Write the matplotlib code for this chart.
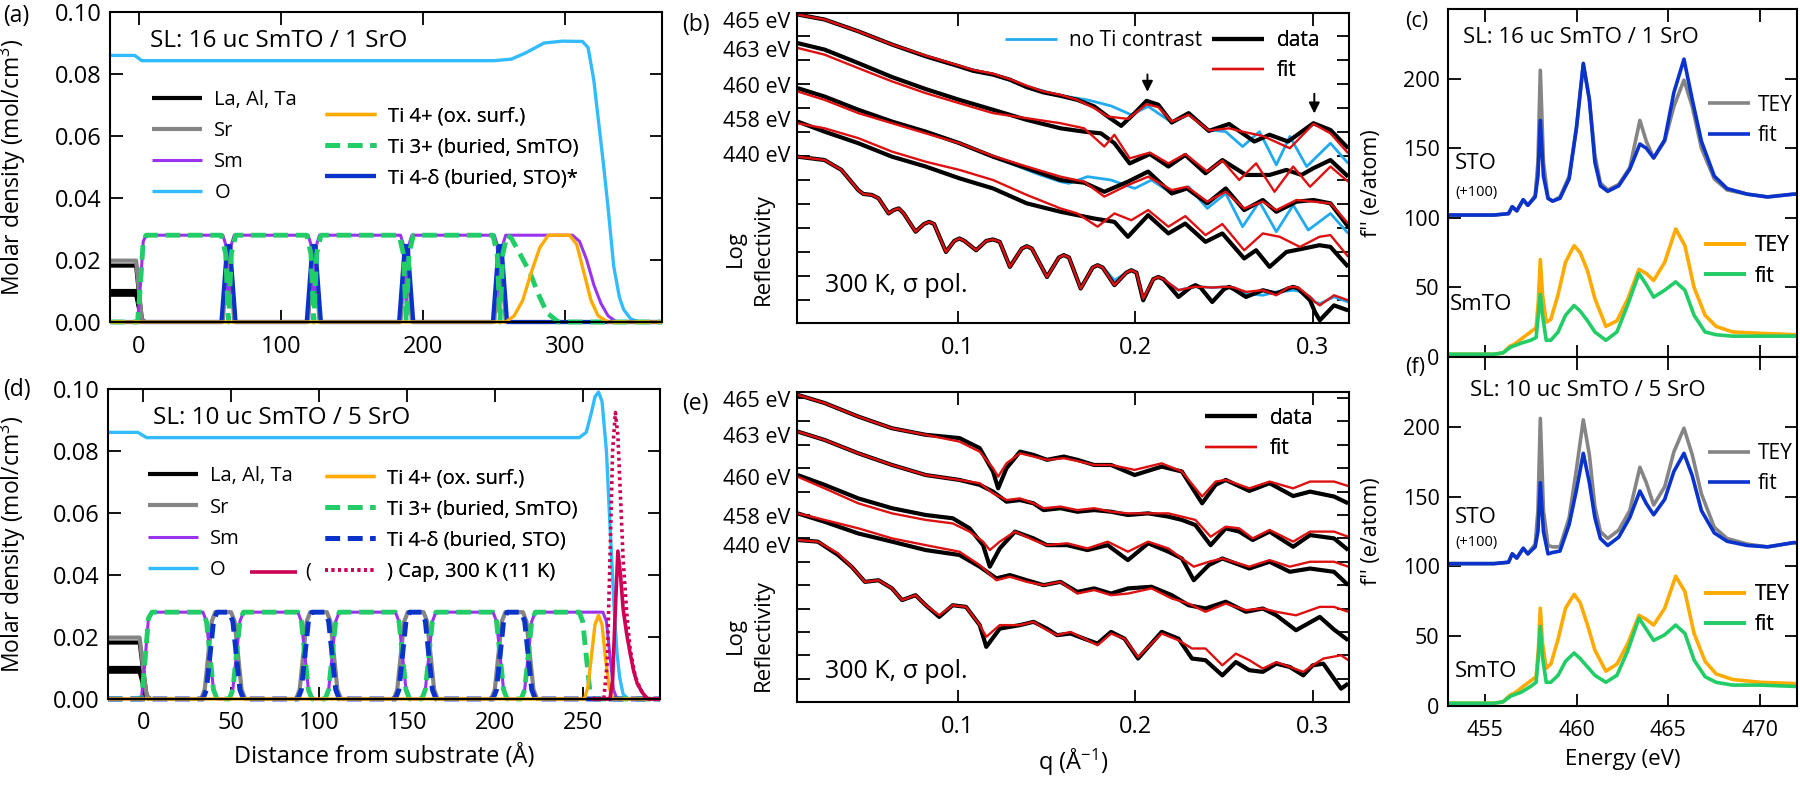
import matplotlib.pyplot as plt
import matplotlib.transforms as mtransforms
from matplotlib.lines import Line2D
from matplotlib.ticker import MultipleLocator

plt.rcParams['font.family'] = ['Open Sans', 'DejaVu Sans']
plt.rcParams['mathtext.fontset'] = 'custom'
plt.rcParams['mathtext.rm'] = 'Open Sans'
plt.rcParams['mathtext.it'] = 'Open Sans:italic'
plt.rcParams['axes.linewidth'] = 1.5
plt.rcParams['lines.solid_joinstyle'] = 'round'
plt.rcParams['lines.solid_capstyle'] = 'butt'

# colours
c_sub = 'black'
c_sr = '#858585'
c_sm = '#9933ee'
c_o = '#33bbff'
c_ti4 = '#ffaa00'
c_ti3 = '#22cc66'
c_tid = '#0a33cc'
c_cap = '#cc0055'
c_fit = '#dd1111'
c_noti = '#22aaee'

# ---------------- (a) depth profile, 16 uc SmTO / 1 SrO ----------------
sub_x = [-20, -2, 0, 2, 4]
la_y = [0.0088, 0.0088, 0.0044, 0.0004, 0.0]
ta_y = [0.0100, 0.0100, 0.0050, 0.0005, 0.0]
al_y = [0.0182, 0.0182, 0.0091, 0.0009, 0.0]

a_o_x = [-20, -3, 2, 250, 262, 272, 285, 298, 312, 316, 320, 324, 327, 330, 334, 338, 341, 346, 352, 368]
a_o_y = [0.086, 0.086, 0.0843, 0.0843, 0.0848, 0.0868, 0.0900, 0.0906, 0.0905, 0.0885, 0.078, 0.062,
         0.050, 0.037, 0.018, 0.008, 0.004, 0.001, 0.0, 0.0]
a_sr_x = [-20, -2, 0, 2, 4, 59, 62, 64, 67, 119, 122, 124, 127, 184, 187, 189, 192, 250, 253, 255, 258, 368]
a_sr_y = [0.0198, 0.0198, 0.0099, 0.001, 0, 0, 0.022, 0.022, 0, 0, 0.022, 0.022, 0, 0, 0.022, 0.022, 0,
          0, 0.022, 0.022, 0, 0]
a_sm_x = [-20, -1, 1, 3, 5, 59, 61, 63, 65, 67, 119, 121, 123, 125, 127, 184, 186, 188, 190, 192,
          250, 252, 254, 256, 258, 305, 310, 315, 320, 325, 330, 336, 368]
a_sm_y = [0, 0, 0.012, 0.026, 0.028, 0.028, 0.025, 0.006, 0.025, 0.028, 0.028, 0.025, 0.006, 0.025, 0.028,
          0.028, 0.025, 0.006, 0.025, 0.028, 0.028, 0.025, 0.006, 0.025, 0.028, 0.028, 0.026, 0.020,
          0.012, 0.006, 0.002, 0, 0]
a_ti3_x = [-20, -1, 1, 3, 5, 58, 61, 63, 65, 68, 118, 121, 123, 125, 128, 183, 186, 188, 190, 193,
           249, 252, 254, 256, 259, 262, 268, 275, 281, 287, 295, 368]
a_ti3_y = [0, 0, 0.012, 0.026, 0.028, 0.028, 0.022, 0.0, 0.022, 0.028, 0.028, 0.022, 0.0, 0.022, 0.028,
           0.028, 0.022, 0.0, 0.022, 0.028, 0.028, 0.022, 0.0, 0.022, 0.028, 0.027, 0.022, 0.016,
           0.009, 0.003, 0.0, 0.0]
a_tid_x = [-20, 58, 62, 64, 68, 118, 122, 124, 128, 183, 187, 189, 193, 249, 253, 255, 259, 368]
a_tid_y = [0, 0, 0.0245, 0.0245, 0, 0, 0.0245, 0.0245, 0, 0, 0.0245, 0.0245, 0, 0, 0.0245, 0.0245, 0, 0]
a_ti4_x = [-20, 258, 264, 270, 276, 282, 288, 303, 308, 313, 318, 323, 330, 368]
a_ti4_y = [0, 0, 0.002, 0.007, 0.016, 0.024, 0.028, 0.028, 0.025, 0.016, 0.007, 0.002, 0, 0]

# ---------------- (d) depth profile, 10 uc SmTO / 5 SrO ----------------
d_o_x = [-20, -3, 2, 248, 252, 255, 257, 259, 261, 263.5, 265, 266.5, 268, 269.5, 271, 273, 276, 294]
d_o_y = [0.086, 0.086, 0.0843, 0.0843, 0.0860, 0.0925, 0.0975, 0.0990, 0.0960, 0.0800, 0.0620,
         0.0450, 0.0280, 0.0150, 0.0070, 0.0015, 0, 0]
d_sr_x = [-20, -2, 0, 2, 4, 33, 35, 37, 39, 41, 50, 52, 54, 56, 58, 87, 89, 91, 93, 95,
          104.5, 106.5, 108.5, 110.5, 112.5, 142.5, 144.5, 146.5, 148.5, 150.5,
          159.5, 161.5, 163.5, 165.5, 167.5, 198, 200, 202, 204, 206, 216, 218, 220, 222, 224, 294]
d_sr_y = [0.0198, 0.0198, 0.0099, 0.001, 0,
          0, 0.003, 0.014, 0.025, 0.028, 0.028, 0.025, 0.014, 0.003, 0,
          0, 0.003, 0.014, 0.025, 0.028, 0.028, 0.025, 0.014, 0.003, 0,
          0, 0.003, 0.014, 0.025, 0.028, 0.028, 0.025, 0.014, 0.003, 0,
          0, 0.003, 0.014, 0.025, 0.028, 0.028, 0.025, 0.014, 0.003, 0, 0]
d_ti3_x = [-20, -1, 1, 3, 5, 34, 36, 38, 40, 42, 49, 51, 53, 55, 57, 88, 90, 92, 94, 96,
           103.5, 105.5, 107.5, 109.5, 111.5, 143.5, 145.5, 147.5, 149.5, 151.5,
           158.5, 160.5, 162.5, 164.5, 166.5, 199, 201, 203, 205, 207, 215, 217, 219, 221, 223,
           248, 250, 252, 254, 256, 294]
d_ti3_y = [0, 0, 0.012, 0.026, 0.028,
           0.028, 0.025, 0.014, 0.003, 0, 0, 0.003, 0.014, 0.025, 0.028,
           0.028, 0.025, 0.014, 0.003, 0, 0, 0.003, 0.014, 0.025, 0.028,
           0.028, 0.025, 0.014, 0.003, 0, 0, 0.003, 0.014, 0.025, 0.028,
           0.028, 0.025, 0.014, 0.003, 0, 0, 0.003, 0.014, 0.025, 0.028,
           0.028, 0.025, 0.014, 0.003, 0, 0]
d_sm_x = [-20, -1, 1, 3, 5, 34, 36, 38, 40, 42, 49, 51, 53, 55, 57, 88, 90, 92, 94, 96,
          103.5, 105.5, 107.5, 109.5, 111.5, 143.5, 145.5, 147.5, 149.5, 151.5,
          158.5, 160.5, 162.5, 164.5, 166.5, 199, 201, 203, 205, 207, 215, 217, 219, 221, 223,
          261.5, 263.5, 265.5, 267.5, 269.5, 294]
d_sm_y = d_ti3_y
d_tid_x = [-20, 34, 36, 38, 40, 42, 49, 51, 53, 55, 57, 88, 90, 92, 94, 96,
           103.5, 105.5, 107.5, 109.5, 111.5, 143.5, 145.5, 147.5, 149.5, 151.5,
           158.5, 160.5, 162.5, 164.5, 166.5, 199, 201, 203, 205, 207, 215, 217, 219, 221, 223, 294]
d_tid_y = [0,
           0, 0.003, 0.014, 0.025, 0.028, 0.028, 0.025, 0.014, 0.003, 0,
           0, 0.003, 0.014, 0.025, 0.028, 0.028, 0.025, 0.014, 0.003, 0,
           0, 0.003, 0.014, 0.025, 0.028, 0.028, 0.025, 0.014, 0.003, 0,
           0, 0.003, 0.014, 0.025, 0.028, 0.028, 0.025, 0.014, 0.003, 0, 0]
d_ti4_x = [-20, 251, 253, 255, 257, 259, 261, 263, 265, 267, 294]
d_ti4_y = [0, 0, 0.004, 0.014, 0.024, 0.027, 0.024, 0.013, 0.004, 0, 0]
cap300_x = [255, 265.5, 267, 268.5, 270, 271.5, 273, 275, 277, 279, 281, 284, 287, 294]
cap300_y = [0, 0, 0.006, 0.028, 0.0477, 0.040, 0.029, 0.021, 0.0147, 0.009, 0.005, 0.002, 0, 0]
cap11_x = [255, 262, 264, 265.5, 267, 268.6, 270, 271.5, 273, 275, 277, 280, 283, 286, 294]
cap11_y = [0, 0, 0.012, 0.045, 0.080, 0.0924, 0.085, 0.065, 0.045, 0.028, 0.016, 0.007, 0.003, 0, 0]

# ---------------- (b) reflectivity, log10 R with offsets ----------------
b_q465 = [0.0098, 0.0250, 0.0440, 0.0630, 0.0820, 0.1010, 0.1086, 0.1199, 0.1294, 0.1389, 0.1484, 0.1579,
          0.1674, 0.1769, 0.1845, 0.1921, 0.1997, 0.2064, 0.2130, 0.2206, 0.2301, 0.2415, 0.2529, 0.2671,
          0.2757, 0.2861, 0.3004, 0.310, 0.320]
b_465_data = [11.88, 11.67, 11.18, 10.63, 10.14, 9.72, 9.54, 9.38, 9.17, 8.86, 8.64, 8.50, 8.33, 8.06, 7.64,
              7.25, 7.78, 8.29, 8.13, 7.39, 7.78, 7.04, 7.33, 6.60, 6.88, 6.60, 7.36, 7.08, 6.32]
b_q465_fit = [0.0098, 0.0250, 0.0440, 0.0630, 0.0820, 0.1010, 0.1086, 0.1199, 0.1294, 0.1389, 0.1484,
              0.1579, 0.1674, 0.1769, 0.1845, 0.1959, 0.2064, 0.2130, 0.2206, 0.2301, 0.2415, 0.2529,
              0.2605, 0.2719, 0.2871, 0.3004, 0.310, 0.320]
b_465_fit = [11.88, 11.67, 11.18, 10.63, 10.17, 9.75, 9.58, 9.42, 9.19, 8.92, 8.68, 8.54, 8.33, 7.99, 7.64,
             7.54, 8.15, 8.03, 7.43, 7.71, 7.06, 7.15, 7.01, 6.83, 6.32, 7.33, 6.94, 6.11]
b_q465_noti = [0.0098, 0.0250, 0.0440, 0.0630, 0.0820, 0.1010, 0.1199, 0.1389, 0.1579, 0.1731, 0.1864,
               0.1978, 0.2073, 0.2206, 0.2301, 0.2415, 0.2510, 0.2605, 0.2700, 0.2795, 0.2871, 0.2966,
               0.310, 0.320]
b_465_noti = [11.88, 11.67, 11.18, 10.63, 10.14, 9.72, 9.38, 8.89, 8.51, 8.33, 8.08, 7.71, 8.06, 7.39,
              7.71, 7.08, 7.01, 6.39, 7.01, 5.63, 6.81, 5.56, 6.53, 5.69]

b_q463 = [0.0098, 0.0250, 0.0440, 0.0630, 0.0820, 0.1010, 0.1199, 0.1294, 0.1389, 0.1579, 0.1712, 0.1807,
          0.1883, 0.1969, 0.2083, 0.2187, 0.2282, 0.2396, 0.2491, 0.2624, 0.2757, 0.2852, 0.2937, 0.3004,
          0.310, 0.320]
b_463_data = [10.69, 10.42, 9.86, 9.28, 8.78, 8.33, 7.92, 7.71, 7.50, 7.15, 7.01, 6.94, 6.53, 5.69, 6.08,
              5.56, 6.04, 5.28, 5.83, 5.21, 5.21, 5.42, 5.21, 5.49, 5.83, 5.14]
b_q463_fit = [0.0098, 0.0250, 0.0440, 0.0630, 0.0820, 0.1010, 0.1199, 0.1389, 0.1579, 0.1712, 0.1826,
              0.1883, 0.1969, 0.2083, 0.2187, 0.2282, 0.2406, 0.2491, 0.2586, 0.2681, 0.2785, 0.2890,
              0.2985, 0.310, 0.320]
b_463_fit = [10.49, 10.21, 9.65, 9.10, 8.61, 8.19, 7.78, 7.57, 7.36, 7.15, 6.39, 6.88, 5.90, 6.14, 5.69,
             6.08, 5.35, 5.81, 5.00, 5.69, 4.51, 5.56, 4.72, 5.56, 4.93]

b_q460 = [0.0098, 0.0250, 0.0440, 0.0630, 0.0820, 0.1010, 0.1199, 0.1389, 0.1579, 0.1712, 0.1826, 0.1959,
          0.2073, 0.2206, 0.2292, 0.2406, 0.2510, 0.2614, 0.2719, 0.2795, 0.2909, 0.3004, 0.310, 0.320]
b_460_data = [8.82, 8.47, 7.92, 7.43, 7.01, 6.53, 5.97, 5.49, 5.00, 4.89, 4.51, 4.93, 5.35, 4.44, 4.65,
              4.03, 4.65, 3.75, 4.17, 3.68, 4.10, 4.17, 4.03, 3.06]
b_460_fit = [8.68, 8.33, 7.78, 7.36, 6.94, 6.53, 6.00, 5.56, 5.14, 4.93, 4.31, 4.79, 5.14, 4.58, 4.72,
             4.10, 4.51, 3.82, 4.10, 3.75, 4.17, 4.10, 4.03, 3.19]
b_q460_noti = [0.0098, 0.0250, 0.0440, 0.0630, 0.0820, 0.1010, 0.1199, 0.1465, 0.1579, 0.1627, 0.1731,
               0.1864, 0.1997, 0.2092, 0.2206, 0.2301, 0.2406, 0.2510, 0.2605, 0.2700, 0.2795, 0.2890,
               0.2975, 0.310, 0.320]
b_460_noti = [8.82, 8.47, 7.92, 7.43, 7.01, 6.53, 5.97, 5.21, 4.93, 4.86, 5.14, 5.00, 4.65, 5.00, 4.44,
              4.72, 3.82, 4.44, 3.06, 4.10, 2.85, 3.96, 2.92, 3.61, 2.78]

b_q458 = [0.0098, 0.0250, 0.0440, 0.0630, 0.0820, 0.1010, 0.1199, 0.1389, 0.1579, 0.1769, 0.1883, 0.1959,
          0.2073, 0.2187, 0.2282, 0.2396, 0.2491, 0.2614, 0.2681, 0.2757, 0.2852, 0.2947, 0.3038, 0.310,
          0.320]
b_458_data = [7.43, 7.01, 6.53, 5.97, 5.56, 5.07, 4.65, 4.03, 3.68, 3.40, 3.26, 2.64, 3.54, 2.78, 3.19,
              2.43, 2.78, 1.74, 2.08, 1.39, 2.01, 2.15, 2.29, 2.22, 1.39]
b_q458_fit = [0.0098, 0.0250, 0.0440, 0.0630, 0.0820, 0.1010, 0.1199, 0.1389, 0.1579, 0.1674, 0.1788,
              0.1883, 0.1978, 0.2073, 0.2187, 0.2282, 0.2396, 0.2491, 0.2614, 0.2719, 0.2814, 0.2928,
              0.3038, 0.310, 0.320]
b_458_fit = [7.36, 7.15, 6.74, 6.18, 5.76, 5.42, 5.00, 4.38, 3.82, 3.61, 3.06, 3.61, 3.33, 3.75, 3.06,
             3.50, 2.71, 3.17, 2.08, 2.78, 2.64, 2.22, 2.64, 2.71, 1.81]

b_q440 = [0.0098, 0.0250, 0.0345, 0.0440, 0.0468, 0.0516, 0.0554, 0.0611, 0.0639, 0.0668,
          0.0696, 0.0763, 0.0810, 0.0839, 0.0867, 0.0934, 0.0981, 0.1010, 0.1038, 0.1104,
          0.1161, 0.1199, 0.1237, 0.1294, 0.1361, 0.1389, 0.1418, 0.1503, 0.1570, 0.1598,
          0.1627, 0.1693, 0.1760, 0.1788, 0.1817, 0.1883, 0.1950, 0.1978, 0.2007, 0.2045,
          0.2102, 0.2130, 0.2159, 0.2244, 0.2310, 0.2339, 0.2368, 0.2434, 0.2500, 0.2529,
          0.2557, 0.2624, 0.2719, 0.2795, 0.2861, 0.2890, 0.2918, 0.2985, 0.3013, 0.3040,
          0.3120, 0.3200]
b_440_data = [5.97, 5.83, 5.42, 4.58, 4.42, 4.38, 4.24, 3.61, 3.75, 3.82,
              3.61, 2.85, 3.17, 3.26, 3.17, 2.01, 2.47, 2.57, 2.47, 2.08,
              2.47, 2.53, 2.43, 1.39, 2.15, 2.25, 2.15, 0.97, 1.78, 1.88,
              1.78, 0.49, 1.36, 1.46, 1.36, 0.63, 1.15, 1.25, 1.15, 0.00,
              0.88, 0.97, 0.88, 0.14, 0.53, 0.63, 0.53, -0.07, 0.46, 0.56,
              0.46, 0.14, 0.42, 0.28, 0.49, 0.56, 0.49, 0.00, -0.49, -0.83,
              -0.21, -0.42]
b_440_fit = [5.97, 5.83, 5.42, 4.58, 4.42, 4.38, 4.24, 3.61, 3.75, 3.82,
             3.61, 2.85, 3.17, 3.26, 3.17, 2.01, 2.47, 2.57, 2.47, 2.08,
             2.47, 2.53, 2.43, 1.39, 2.15, 2.25, 2.15, 0.97, 1.78, 1.88,
             1.78, 0.49, 1.36, 1.46, 1.36, 0.63, 1.15, 1.25, 1.15, 0.07,
             0.88, 0.97, 0.88, 0.42, 0.53, 0.56, 0.56, 0.53, 0.56, 0.56,
             0.53, 0.35, 0.42, 0.21, 0.53, 0.56, 0.53, 0.14, -0.07, -0.21,
             0.21, 0.00]
b_440_noti = [5.97, 5.83, 5.42, 4.58, 4.42, 4.38, 4.24, 3.61, 3.75, 3.82,
              3.61, 2.85, 3.17, 3.26, 3.17, 2.01, 2.47, 2.57, 2.47, 2.08,
              2.47, 2.53, 2.43, 1.39, 2.15, 2.25, 2.15, 0.97, 1.78, 1.88,
              1.78, 0.49, 1.36, 1.46, 1.39, 0.83, 1.15, 1.25, 1.15, 0.07,
              0.88, 0.97, 0.88, 0.42, 0.53, 0.56, 0.56, 0.53, 0.56, 0.56,
              0.53, 0.28, 0.21, 0.35, 0.39, 0.42, 0.39, 0.14, -0.07, -0.14,
              0.14, -0.07]

# ---------------- (e) reflectivity, log10 R with offsets ----------------
e_q465 = [0.0098, 0.0250, 0.0440, 0.0630, 0.0820, 0.1010, 0.1124, 0.1199, 0.1228, 0.1275, 0.1351, 0.1427,
          0.1503, 0.1598, 0.1674, 0.1769, 0.1864, 0.1997, 0.2149, 0.2263, 0.2377, 0.2453, 0.2510, 0.2643,
          0.2757, 0.2890, 0.2985, 0.3120, 0.3200]
e_465_data = [12.14, 11.79, 11.21, 10.71, 10.43, 10.29, 9.86, 8.86, 8.14, 9.00, 9.71, 9.57, 9.36, 9.50,
              9.36, 9.14, 9.14, 8.71, 9.07, 8.86, 7.50, 8.29, 8.50, 8.03, 8.36, 7.81, 8.00, 7.79, 7.50]
e_465_fit = [12.14, 11.79, 11.21, 10.71, 10.43, 10.14, 9.71, 9.00, 8.64, 9.21, 9.64, 9.50, 9.36, 9.43,
             9.31, 9.14, 9.14, 8.93, 9.21, 8.86, 7.79, 8.43, 8.50, 8.14, 8.43, 8.14, 8.43, 8.43, 8.24]
e_q463 = [0.0098, 0.0250, 0.0440, 0.0630, 0.0820, 0.1010, 0.1124, 0.1199, 0.1275, 0.1351, 0.1427, 0.1484,
          0.1579, 0.1674, 0.1769, 0.1864, 0.1959, 0.2073, 0.2187, 0.2263, 0.2339, 0.2425, 0.2510, 0.2586,
          0.2662, 0.2757, 0.2890, 0.2985, 0.3120, 0.3200]
e_463_data = [10.57, 10.21, 9.64, 9.14, 8.71, 8.50, 8.29, 8.00, 7.57, 7.64, 7.50, 7.21, 7.29, 7.14, 7.21,
              7.14, 7.00, 7.07, 6.93, 6.79, 6.57, 5.71, 6.43, 6.29, 5.93, 6.29, 5.64, 6.14, 6.00, 5.50]
e_463_fit = [10.57, 10.21, 9.64, 9.14, 8.71, 8.50, 8.36, 7.93, 7.64, 7.71, 7.50, 7.29, 7.36, 7.21, 7.29,
             7.14, 7.07, 7.07, 7.07, 6.93, 6.79, 6.07, 6.50, 6.43, 6.00, 6.36, 5.86, 6.29, 6.29, 6.07]
e_q460 = [0.0098, 0.0250, 0.0440, 0.0630, 0.0820, 0.0972, 0.1067, 0.1143, 0.1181, 0.1237, 0.1323, 0.1427,
          0.1503, 0.1617, 0.1731, 0.1845, 0.1959, 0.2073, 0.2187, 0.2263, 0.2330, 0.2415, 0.2491, 0.2643,
          0.2757, 0.2871, 0.2985, 0.3120, 0.3200]
e_460_data = [8.71, 8.29, 7.71, 7.29, 7.00, 6.86, 6.43, 5.71, 4.79, 5.57, 6.29, 6.00, 5.71, 5.71, 5.50,
              5.71, 5.07, 5.79, 5.43, 5.14, 4.21, 4.86, 5.14, 4.71, 5.00, 4.57, 4.71, 4.57, 4.00]
e_460_fit = [8.64, 8.14, 7.50, 7.07, 6.79, 6.64, 6.29, 5.86, 5.50, 5.86, 6.29, 5.93, 5.71, 5.79, 5.57,
             5.86, 5.43, 5.86, 5.57, 5.14, 4.79, 5.00, 5.14, 4.79, 5.07, 4.79, 5.00, 5.00, 4.79]
e_q458 = [0.0098, 0.0250, 0.0440, 0.0630, 0.0820, 0.1010, 0.1124, 0.1218, 0.1294, 0.1389, 0.1484, 0.1579,
          0.1674, 0.1769, 0.1864, 0.1959, 0.2092, 0.2206, 0.2301, 0.2396, 0.2510, 0.2624, 0.2719, 0.2795,
          0.2906, 0.3040, 0.3120, 0.3200]
e_458_data = [7.07, 6.71, 6.21, 5.86, 5.50, 5.29, 4.79, 4.29, 4.43, 4.21, 4.00, 4.14, 3.71, 3.86, 3.64,
              3.86, 3.93, 3.57, 3.14, 3.00, 3.29, 2.86, 3.00, 2.71, 2.07, 2.64, 2.10, 1.64]
e_458_fit = [7.07, 6.79, 6.43, 6.00, 5.71, 5.43, 4.86, 4.21, 4.36, 4.14, 4.00, 4.14, 3.64, 3.79, 3.57,
             3.64, 3.86, 3.43, 3.21, 2.86, 3.21, 2.93, 3.00, 2.86, 2.71, 3.07, 3.07, 2.86]
e_q440 = [0.0098, 0.0212, 0.0326, 0.0402, 0.0478, 0.0554, 0.0630, 0.0687, 0.0763, 0.0820, 0.0896, 0.0972,
          0.1047, 0.1124, 0.1161, 0.1237, 0.1351, 0.1427, 0.1503, 0.1560, 0.1636, 0.1712, 0.1788, 0.1864,
          0.1940, 0.2016, 0.2149, 0.2244, 0.2320, 0.2396, 0.2491, 0.2567, 0.2643, 0.2719, 0.2795, 0.2871,
          0.2947, 0.3000, 0.3060, 0.3160, 0.3200]
e_440_data = [5.93, 5.86, 5.29, 4.79, 4.14, 4.21, 3.86, 3.36, 3.57, 3.14, 2.64, 3.14, 3.07, 2.29, 1.36,
              2.14, 2.29, 2.43, 2.14, 1.86, 1.93, 1.71, 1.50, 2.00, 1.71, 0.86, 2.00, 1.71, 0.86, 0.79,
              0.14, 0.71, 0.36, 0.29, 0.64, 0.50, 0.14, 0.57, 0.64, -0.43, -0.21]
e_440_fit = [5.93, 5.86, 5.36, 4.79, 4.14, 4.21, 3.86, 3.36, 3.57, 3.14, 2.71, 3.14, 3.07, 2.29, 1.79,
             2.29, 2.29, 2.43, 2.07, 1.86, 2.00, 1.71, 1.43, 1.93, 1.71, 0.93, 1.93, 1.64, 1.29, 1.29,
             0.57, 1.07, 0.79, 0.43, 0.71, 0.50, 0.29, 0.57, 0.86, 1.00, 0.79]

energy_labels = ['465 eV', '463 eV', '460 eV', '458 eV', '440 eV']
b_label_y = [11.54, 10.33, 8.83, 7.42, 5.96]
e_label_y = [11.84, 10.30, 8.50, 6.87, 5.63]

# ---------------- (c), (f) f'' spectra ----------------
E_sto = [453.0, 455.5, 456.3, 456.5, 456.75, 457.1, 457.35, 457.75, 457.9, 458.03, 458.2, 458.45, 458.7,
         459.1, 459.6, 460.0, 460.37, 460.7, 461.0, 461.3, 461.7, 462.3, 462.9, 463.45, 463.8, 464.2,
         464.8, 465.3, 465.85, 466.3, 466.8, 467.5, 468.2, 469.3, 470.4, 471.8, 472.0]
c_sto_tey = [102, 102, 103, 108, 105, 113, 109, 116, 140, 206, 140, 114, 112, 115, 130, 165, 210, 185, 145,
             125, 120, 124, 136, 170, 155, 143, 155, 180, 199, 180, 150, 128, 120, 117, 115, 117, 117]
c_sto_fit = [102, 102, 103, 108, 105, 113, 109, 115, 130, 170, 130, 114, 112, 114, 128, 165, 211, 185, 140,
             123, 119, 123, 135, 153, 150, 143, 156, 190, 214, 185, 155, 130, 121, 117, 115, 117, 117]
f_sto_tey = [102, 102, 103, 109, 106, 113, 109, 116, 140, 206, 140, 115, 114, 114, 135, 170, 205, 180, 143,
             125, 120, 126, 140, 171, 160, 144, 157, 182, 199, 180, 152, 128, 120, 116, 114, 117, 117]
f_sto_fit = [102, 102, 103, 109, 106, 113, 109, 114, 125, 160, 125, 109, 110, 111, 130, 155, 181, 160, 135,
             120, 115, 121, 135, 154, 145, 137, 148, 168, 181, 165, 140, 124, 118, 115, 114, 117, 117]
E_smto = [453.0, 455.5, 456.0, 456.4, 456.6, 457.0, 457.5, 457.8, 457.92, 458.03, 458.15, 458.35, 458.6,
          459.0, 459.4, 459.87, 460.2, 460.6, 461.0, 461.6, 462.2, 462.8, 463.4, 463.8, 464.2, 464.8,
          465.4, 465.9, 466.4, 467.0, 467.6, 468.5, 470.0, 472.0]
c_smto_tey = [2, 2, 3, 8, 9, 13, 18, 21, 40, 70, 45, 25, 27, 45, 68, 80, 75, 62, 42, 22, 26, 42, 63, 60,
              55, 68, 92, 80, 50, 30, 22, 18, 17, 16]
c_smto_fit = [2, 2, 3, 7, 8, 10, 12, 14, 30, 45, 30, 12, 12, 18, 30, 37, 33, 26, 18, 12, 18, 38, 60, 52,
              43, 48, 54, 48, 30, 18, 16, 15, 15, 15]
f_smto_tey = [2, 2, 3, 8, 9, 13, 18, 21, 40, 70, 45, 27, 30, 48, 70, 80, 74, 58, 40, 25, 30, 45, 65, 62,
              58, 70, 93, 82, 52, 32, 23, 19, 17, 16]
f_smto_fit = [2, 2, 3, 7, 8, 10, 14, 17, 35, 57, 35, 17, 17, 22, 32, 38, 34, 28, 22, 17, 22, 40, 63, 55,
              47, 51, 58, 52, 33, 21, 17, 15, 15, 14]


def style(ax, fs, xpad=9, ypad=6):
    ax.tick_params(which='both', direction='in', top=True, right=True, length=9, width=1.3, labelsize=fs)
    ax.tick_params(axis='x', pad=xpad)
    ax.tick_params(axis='y', pad=ypad)


def add_leg(ax, handles, labels, anchor, loc='upper left', fs=14.5, hl=2.5, ls=0.55, htp=0.6):
    lg = ax.legend(handles, labels, loc=loc, bbox_to_anchor=anchor, frameon=False, fontsize=fs,
                   handlelength=hl, handletextpad=htp, labelspacing=ls, borderpad=0, borderaxespad=0)
    ax.add_artist(lg)
    return lg


fig = plt.figure(figsize=(18, 7.85), dpi=100)
ax_a = fig.add_axes([0.0611, 0.5898, 0.3067, 0.3949])
ax_d = fig.add_axes([0.0600, 0.1096, 0.3067, 0.3949])
ax_b = fig.add_axes([0.4428, 0.5885, 0.3067, 0.3949])
ax_e = fig.add_axes([0.4428, 0.1057, 0.3067, 0.3949])
ax_c = fig.add_axes([0.8044, 0.5452, 0.1939, 0.4433])
ax_f = fig.add_axes([0.8044, 0.1006, 0.1939, 0.4446])

h_sub = Line2D([], [], color=c_sub, lw=3)
h_sr = Line2D([], [], color=c_sr, lw=3)
h_sm = Line2D([], [], color=c_sm, lw=2.2)
h_o = Line2D([], [], color=c_o, lw=2.4)
h_ti4 = Line2D([], [], color=c_ti4, lw=2.4)
h_ti3 = Line2D([], [], color=c_ti3, lw=3.5, dashes=(3, 1.6))
h_tid = Line2D([], [], color=c_tid, lw=3)
h_tidd = Line2D([], [], color=c_tid, lw=3.5, dashes=(3, 1.6))
h_cap11 = Line2D([], [], color=c_cap, lw=2.6, ls=(0, (0.8, 1.0)))

# ---- panel (a)
ax = ax_a
kw = dict(clip_on=False)
ax.plot(a_o_x, a_o_y, color=c_o, lw=2.4, **kw)
for yy in (la_y, ta_y, al_y):
    ax.plot(sub_x, yy, color=c_sub, lw=3, **kw)
ax.plot(a_sr_x, a_sr_y, color=c_sr, lw=3, **kw)
ax.plot(a_sm_x, a_sm_y, color=c_sm, lw=2.2, **kw)
ax.plot(a_tid_x, a_tid_y, color=c_tid, lw=3, **kw)
ax.plot(a_ti3_x, a_ti3_y, color=c_ti3, lw=3.5, dashes=(3, 1.6), **kw)
ax.plot(a_ti4_x, a_ti4_y, color=c_ti4, lw=2.4, **kw)
ax.set_xlim(-20.4, 368)
ax.set_ylim(0, 0.10)
ax.set_xticks([0, 100, 200, 300])
ax.set_yticks([0, 0.02, 0.04, 0.06, 0.08, 0.10])
ax.yaxis.set_major_formatter(plt.FormatStrFormatter('%.2f'))
style(ax, 17)
ax.set_ylabel('Molar density (mol/cm$^3$)', fontsize=16.5)
ax.yaxis.set_label_coords(-0.148, 0.5)
ax.text(7.7, 0.0906, 'SL: 16 uc SmTO / 1 SrO', fontsize=17.5, va='center')
add_leg(ax, [h_sub, h_sr, h_sm, h_o], ['La, Al, Ta', 'Sr', 'Sm', 'O'], (0.076, 0.748))
add_leg(ax, [h_ti4, h_ti3, h_tid], ['Ti 4+ (ox. surf.)', 'Ti 3+ (buried, SmTO)', 'Ti 4-δ (buried, STO)*'],
        (0.39, 0.696))

# ---- panel (d)
ax = ax_d
ax.plot(d_o_x, d_o_y, color=c_o, lw=2.4, **kw)
for yy in (la_y, ta_y, al_y):
    ax.plot(sub_x, yy, color=c_sub, lw=3, **kw)
ax.plot(d_sr_x, d_sr_y, color=c_sr, lw=3, **kw)
ax.plot(d_sm_x, d_sm_y, color=c_sm, lw=2.2, **kw)
ax.plot(d_ti3_x, d_ti3_y, color=c_ti3, lw=3.5, dashes=(3, 1.6), **kw)
ax.plot(d_tid_x, d_tid_y, color=c_tid, lw=3.5, dashes=(3, 1.6), **kw)
ax.plot(d_ti4_x, d_ti4_y, color=c_ti4, lw=2.4, **kw)
ax.plot(cap300_x, cap300_y, color=c_cap, lw=2.6, **kw)
ax.plot(cap11_x, cap11_y, color=c_cap, lw=2.6, ls=(0, (0.8, 1.0)), **kw)
ax.set_xlim(-20, 294)
ax.set_ylim(0, 0.10)
ax.set_xticks([0, 50, 100, 150, 200, 250])
ax.set_yticks([0, 0.02, 0.04, 0.06, 0.08, 0.10])
ax.yaxis.set_major_formatter(plt.FormatStrFormatter('%.2f'))
style(ax, 17)
ax.set_ylabel('Molar density (mol/cm$^3$)', fontsize=16.5)
ax.yaxis.set_label_coords(-0.145, 0.5)
ax.set_xlabel('Distance from substrate (Å)', fontsize=17, labelpad=6)
ax.text(5.7, 0.0906, 'SL: 10 uc SmTO / 5 SrO', fontsize=17.5, va='center')
add_leg(ax, [h_sub, h_sr, h_sm, h_o], ['La, Al, Ta', 'Sr', 'Sm', 'O'], (0.072, 0.75))
lg_cap = add_leg(ax, [h_ti4, h_ti3, h_tidd, h_cap11],
                 ['Ti 4+ (ox. surf.)', 'Ti 3+ (buried, SmTO)', 'Ti 4-δ (buried, STO)', ') Cap, 300 K (11 K)'],
                 (0.393, 0.744))

# ---- panel (b)
ax = ax_b
yl_b = mtransforms.blended_transform_factory(ax.transAxes, ax.transData)
for q, y in ((b_q465_noti, b_465_noti), (b_q460_noti, b_460_noti), (b_q440, b_440_noti)):
    ax.plot(q, y, color=c_noti, lw=2.0)
for q, y in ((b_q465, b_465_data), (b_q463, b_463_data), (b_q460, b_460_data), (b_q458, b_458_data),
             (b_q440, b_440_data)):
    ax.plot(q, y, color='black', lw=3.0)
for q, y in ((b_q465_fit, b_465_fit), (b_q463_fit, b_463_fit), (b_q460, b_460_fit), (b_q458_fit, b_458_fit),
             (b_q440, b_440_fit)):
    ax.plot(q, y, color=c_fit, lw=1.7)
ax.set_xlim(0.0095, 0.3205)
ax.set_ylim(-0.944, 11.94)
ax.set_xticks([0.1, 0.2, 0.3])
ax.xaxis.set_major_formatter(plt.FormatStrFormatter('%.1f'))
ax.yaxis.set_major_locator(MultipleLocator(1))
ax.set_yticklabels([])
style(ax, 17)
for lab, y in zip(energy_labels, b_label_y):
    ax.text(-0.012, y, lab, transform=yl_b, ha='right', va='center', fontsize=15.5)
ax.text(-0.087, 0.24, 'Log\nReflectivity', transform=ax.transAxes, rotation=90, ha='center', va='center',
        fontsize=16, linespacing=1.45, multialignment='center')
ax.text(0.05, 0.12, '300 K, σ pol.', transform=ax.transAxes, fontsize=18, va='center')
ax.annotate('', xy=(0.2069, 8.55), xytext=(0.2069, 9.50),
            arrowprops=dict(arrowstyle='-|>', color='black', lw=1.4, mutation_scale=16))
ax.annotate('', xy=(0.3009, 7.65), xytext=(0.3009, 8.70),
            arrowprops=dict(arrowstyle='-|>', color='black', lw=1.4, mutation_scale=16))
add_leg(ax, [Line2D([], [], color=c_noti, lw=2.0)], ['no Ti contrast'], (0.376, 0.945), fs=15)
add_leg(ax, [Line2D([], [], color='black', lw=3.0), Line2D([], [], color=c_fit, lw=1.7)], ['data', 'fit'],
        (0.752, 0.945), fs=15, ls=0.45)

# ---- panel (e)
ax = ax_e
yl_e = mtransforms.blended_transform_factory(ax.transAxes, ax.transData)
for q, y in ((e_q465, e_465_data), (e_q463, e_463_data), (e_q460, e_460_data), (e_q458, e_458_data),
             (e_q440, e_440_data)):
    ax.plot(q, y, color='black', lw=3.0)
for q, y in ((e_q465, e_465_fit), (e_q463, e_463_fit), (e_q460, e_460_fit), (e_q458, e_458_fit),
             (e_q440, e_440_fit)):
    ax.plot(q, y, color=c_fit, lw=1.7)
ax.set_xlim(0.0095, 0.3205)
ax.set_ylim(-1.0, 12.26)
ax.set_xticks([0.1, 0.2, 0.3])
ax.xaxis.set_major_formatter(plt.FormatStrFormatter('%.1f'))
ax.yaxis.set_major_locator(MultipleLocator(1))
ax.set_yticklabels([])
style(ax, 17)
for lab, y in zip(energy_labels, e_label_y):
    ax.text(-0.012, y, lab, transform=yl_e, ha='right', va='center', fontsize=15.5)
ax.text(-0.087, 0.215, 'Log\nReflectivity', transform=ax.transAxes, rotation=90, ha='center', va='center',
        fontsize=16, linespacing=1.45, multialignment='center')
ax.text(0.05, 0.10, '300 K, σ pol.', transform=ax.transAxes, fontsize=18, va='center')
ax.set_xlabel('q (Å$^{-1}$)', fontsize=17, labelpad=6)
add_leg(ax, [Line2D([], [], color='black', lw=3.0), Line2D([], [], color=c_fit, lw=1.7)], ['data', 'fit'],
        (0.739, 0.95), fs=15, ls=0.45)

# ---- panels (c), (f)
for ax, sto_t, sto_f, sm_t, sm_f, title, tpos, lab in (
        (ax_c, c_sto_tey, c_sto_fit, c_smto_tey, c_smto_fit, 'SL: 16 uc SmTO / 1 SrO', (453.8, 229.9),
         [(453.4, 139), (453.4, 118.5), (453.1, 37.4)]),
        (ax_f, f_sto_tey, f_sto_fit, f_smto_tey, f_smto_fit, 'SL: 10 uc SmTO / 5 SrO', (454.2, 226),
         [(453.4, 135.4), (453.4, 116.8), (453.4, 24.4)])):
    ax.plot(E_sto, sto_t, color=c_sr, lw=2.6)
    ax.plot(E_sto, sto_f, color=c_tid, lw=2.6)
    ax.plot(E_smto, sm_t, color=c_ti4, lw=2.6)
    ax.plot(E_smto, sm_f, color=c_ti3, lw=2.6)
    ax.set_xlim(453, 472)
    ax.set_ylim(0, 250)
    ax.set_xticks([455, 460, 465, 470])
    ax.set_yticks([0, 50, 100, 150, 200])
    style(ax, 15.5, xpad=10)
    ax.set_ylabel("f'' (e/atom)", fontsize=15.5)
    ax.yaxis.set_label_coords(-0.19, 0.5)
    ax.text(tpos[0], tpos[1], title, fontsize=16, va='center')
    ax.text(lab[0][0], lab[0][1], 'STO', fontsize=16, va='center')
    ax.text(lab[1][0], lab[1][1], '(+100)', fontsize=10.5, va='center')
    ax.text(lab[2][0], lab[2][1], 'SmTO', fontsize=16, va='center')
    add_leg(ax, [Line2D([], [], color=c_sr, lw=2.6), Line2D([], [], color=c_tid, lw=2.6)], ['TEY', 'fit'],
            (0.745, 0.68), loc='center left', fs=15, hl=2.0, ls=0.45, htp=0.4)
    add_leg(ax, [Line2D([], [], color=c_ti4, lw=2.6), Line2D([], [], color=c_ti3, lw=2.6)], ['TEY', 'fit'],
            (0.735, 0.276), loc='center left', fs=15, hl=2.0, ls=0.45, htp=0.4)
ax_c.tick_params(labelbottom=False)
ax_f.set_xlabel('Energy (eV)', fontsize=16, labelpad=6)

# panel letters
fig.text(3 / 1800, 1 - 16 / 785, '(a)', fontsize=16.5, va='center')
fig.text(3 / 1800, 1 - 390 / 785, '(d)', fontsize=16.5, va='center')
fig.text(682 / 1800, 1 - 25 / 785, '(b)', fontsize=16.5, va='center')
fig.text(682 / 1800, 1 - 404 / 785, '(e)', fontsize=16.5, va='center')
fig.text(1405 / 1800, 1 - 22 / 785, '(c)', fontsize=15.5, va='center')
fig.text(1405 / 1800, 1 - 368 / 785, '(f)', fontsize=15.5, va='center')

# custom "(solid) ( dotted ) Cap" legend row in (d)
fig.canvas.draw()
bb = lg_cap.get_texts()[3].get_window_extent()
y_row = ax_d.transAxes.inverted().transform((0, (bb.y0 + bb.y1) / 2))[1]
ax_d.plot([0.257, 0.342], [y_row, y_row], transform=ax_d.transAxes, color=c_cap, lw=2.6, clip_on=False)
ax_d.text(0.358, y_row, '(', transform=ax_d.transAxes, fontsize=14.5, va='center')

fig.savefig('out.png', dpi=100)
